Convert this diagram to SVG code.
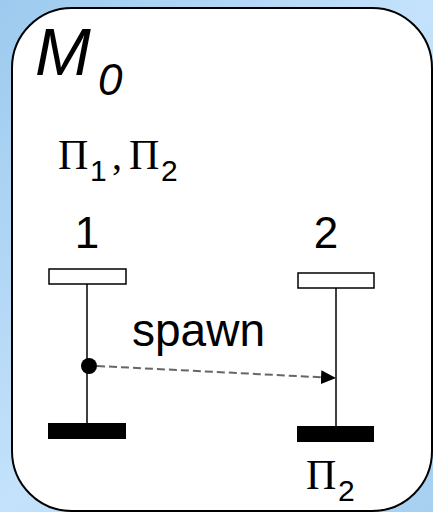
<svg xmlns="http://www.w3.org/2000/svg" width="433" height="512" viewBox="0 0 433 512">
  <defs>
    <linearGradient id="bg" x1="0" y1="0" x2="1" y2="1">
      <stop offset="0" stop-color="#9ccaee"/>
      <stop offset="0.5" stop-color="#c4e2fb"/>
      <stop offset="1" stop-color="#a6cff0"/>
    </linearGradient>
    <marker id="arrow" viewBox="0 0 15 14" refX="15" refY="7" markerWidth="15" markerHeight="14" markerUnits="userSpaceOnUse" orient="auto">
      <path d="M0,0 L15,7 L0,14 Z" fill="#000"/>
    </marker>
    <style>
      .sans { font-family: "Liberation Sans", Arial, sans-serif; fill: #000; }
      .serif { font-family: "Liberation Serif", "Times New Roman", serif; fill: #000; }
      .bar-open { fill: #fff; stroke: #000; stroke-width: 1.5; }
      .bar-fill { fill: #000; }
      .life { stroke: #000; stroke-width: 1.5; fill: none; }
    </style>
  </defs>
  <rect x="0" y="0" width="433" height="512" fill="url(#bg)"/>
  <rect id="frame" x="12" y="8" width="420" height="503" rx="60" ry="60" fill="#fff" stroke="#000" stroke-width="2"/>

  <g id="title">
    <text class="sans" x="35" y="75" font-size="67" font-style="italic">M</text>
    <text class="sans" x="98" y="95" font-size="44" font-style="italic">0</text>
  </g>

  <g id="initial-set">
    <text class="serif" x="58" y="169" font-size="42">Π</text>
    <text class="sans" x="90" y="181" font-size="30">1</text>
    <text class="serif" x="112" y="169" font-size="40">,</text>
    <text class="serif" x="129" y="169" font-size="42">Π</text>
    <text class="sans" x="161" y="181" font-size="30">2</text>
  </g>

  <g id="process1">
    <text class="sans" x="87" y="248" font-size="44" text-anchor="middle">1</text>
    <rect class="bar-open" x="49" y="269" width="77" height="15"/>
    <line class="life" x1="87" y1="284" x2="87" y2="423"/>
    <rect class="bar-fill" x="48" y="423" width="78" height="16"/>
    <circle cx="89" cy="366" r="8" fill="#000"/>
  </g>

  <g id="process2">
    <text class="sans" x="326" y="248" font-size="44" text-anchor="middle">2</text>
    <rect class="bar-open" x="298" y="273" width="76" height="15"/>
    <line class="life" x1="336" y1="288" x2="336" y2="426"/>
    <rect class="bar-fill" x="297" y="426" width="77" height="16"/>
    <text class="serif" x="306" y="489" font-size="42">Π</text>
    <text class="sans" x="338" y="501" font-size="30">2</text>
  </g>

  <g id="connectors">
    <line x1="97" y1="366" x2="336" y2="378" stroke="#666" stroke-width="2" stroke-dasharray="8,4" marker-end="url(#arrow)"/>
    <text class="sans" x="132" y="346" font-size="46">spawn</text>
  </g>
</svg>
